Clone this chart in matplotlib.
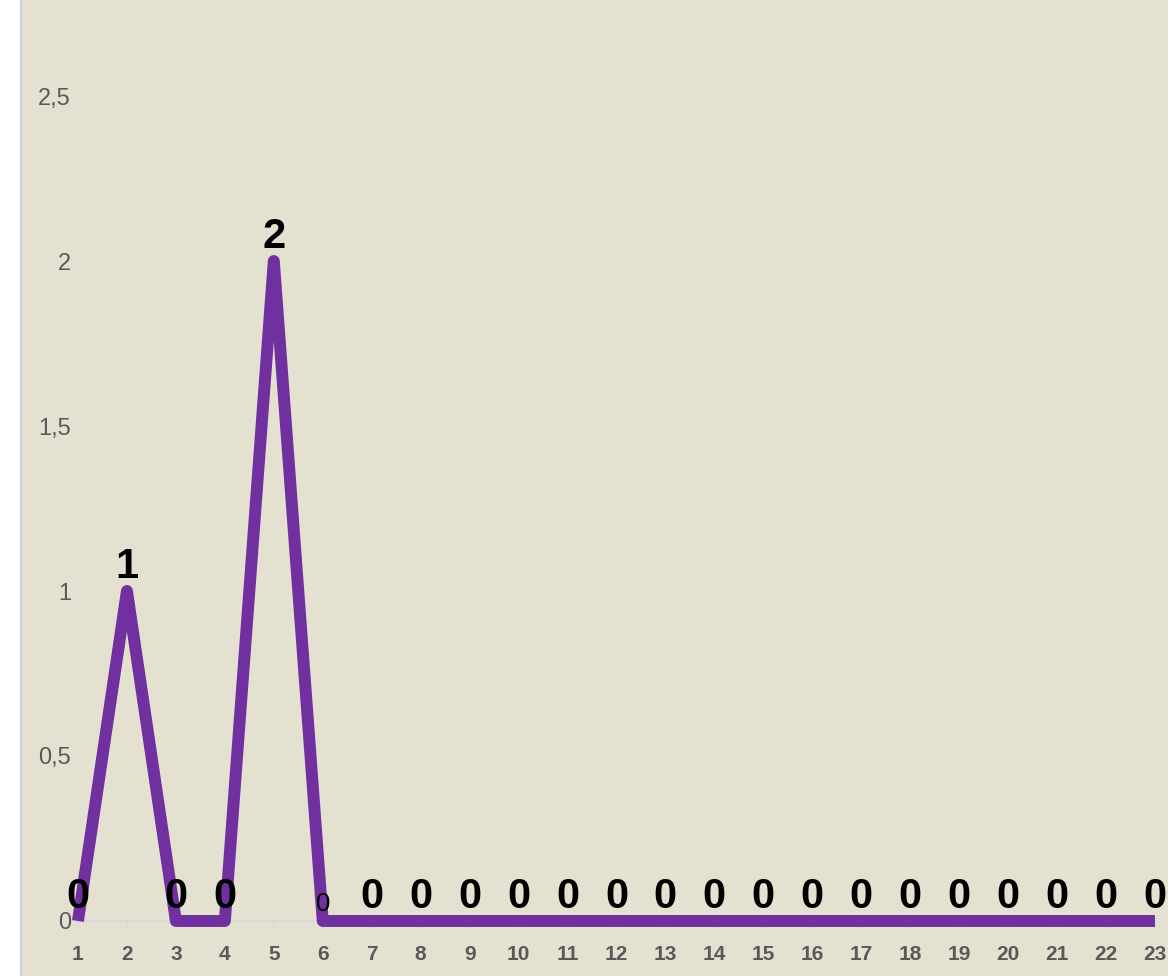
import matplotlib
matplotlib.use("Agg")
import matplotlib.pyplot as plt
from matplotlib.ticker import FuncFormatter

# Data
categories = list(range(1, 24))
values = [0, 1, 0, 0, 2, 0, 0, 0, 0, 0, 0, 0, 0, 0, 0, 0, 0, 0, 0, 0, 0, 0, 0]
y_ticks = [0, 0.5, 1, 1.5, 2, 2.5]

# Styling
bg_color = "#E5E1D1"
line_color = "#7030A0"
tick_color = "#595959"
small_label_idx = 5  # this one point has a small, regular label

plt.rcParams['font.family'] = ['Liberation Sans', 'DejaVu Sans']

fig = plt.figure(figsize=(11.68, 9.76), dpi=100)
fig.patch.set_facecolor("white")
ax = fig.add_axes([21 / 1168, 0, 1 - 21 / 1168, 1])
ax.set_facecolor(bg_color)

ax.plot(categories, values, color=line_color, linewidth=8.6,
        solid_joinstyle="round", solid_capstyle="butt", zorder=3)

# data labels
for i, (x, v) in enumerate(zip(categories, values)):
    if i == small_label_idx:
        ax.annotate(str(v), (x, v), xytext=(0, 3.5), textcoords="offset points",
                    ha="center", va="bottom", fontsize=18.5, color="black", zorder=4)
    else:
        ax.annotate(str(v), (x, v), xytext=(0, 3.2), textcoords="offset points",
                    ha="center", va="bottom", fontsize=30, fontweight="bold",
                    color="black", zorder=4)

ax.set_xlim(-0.164, 23.266)
ax.set_ylim(-0.1667, 2.791)

# x axis drawn at y=0, only between first and last category
for s in ["top", "right"]:
    ax.spines[s].set_visible(False)
ax.spines["bottom"].set_position(("data", 0))
ax.spines["bottom"].set_bounds(categories[0], categories[-1])
ax.spines["bottom"].set_color("#D9D9D9")
ax.spines["bottom"].set_linewidth(1.5)
ax.spines["bottom"].set_zorder(1)
ax.spines["left"].set_color("#CAD3DB")
ax.spines["left"].set_linewidth(1.6)

ax.set_xticks(categories)
ax.set_xticklabels([str(c) for c in categories], fontsize=15,
                   fontweight="bold", color=tick_color)
ax.tick_params(axis="x", length=6.5, width=1.5, color="#D9D9D9", pad=11)

ax.set_yticks(y_ticks)
ax.yaxis.set_major_formatter(FuncFormatter(lambda v, p: f"{v:g}".replace(".", ",")))
ax.tick_params(axis="y", length=0, pad=-36, labelsize=17, labelcolor=tick_color)

fig.savefig("out.png", dpi=100, facecolor=fig.get_facecolor())
